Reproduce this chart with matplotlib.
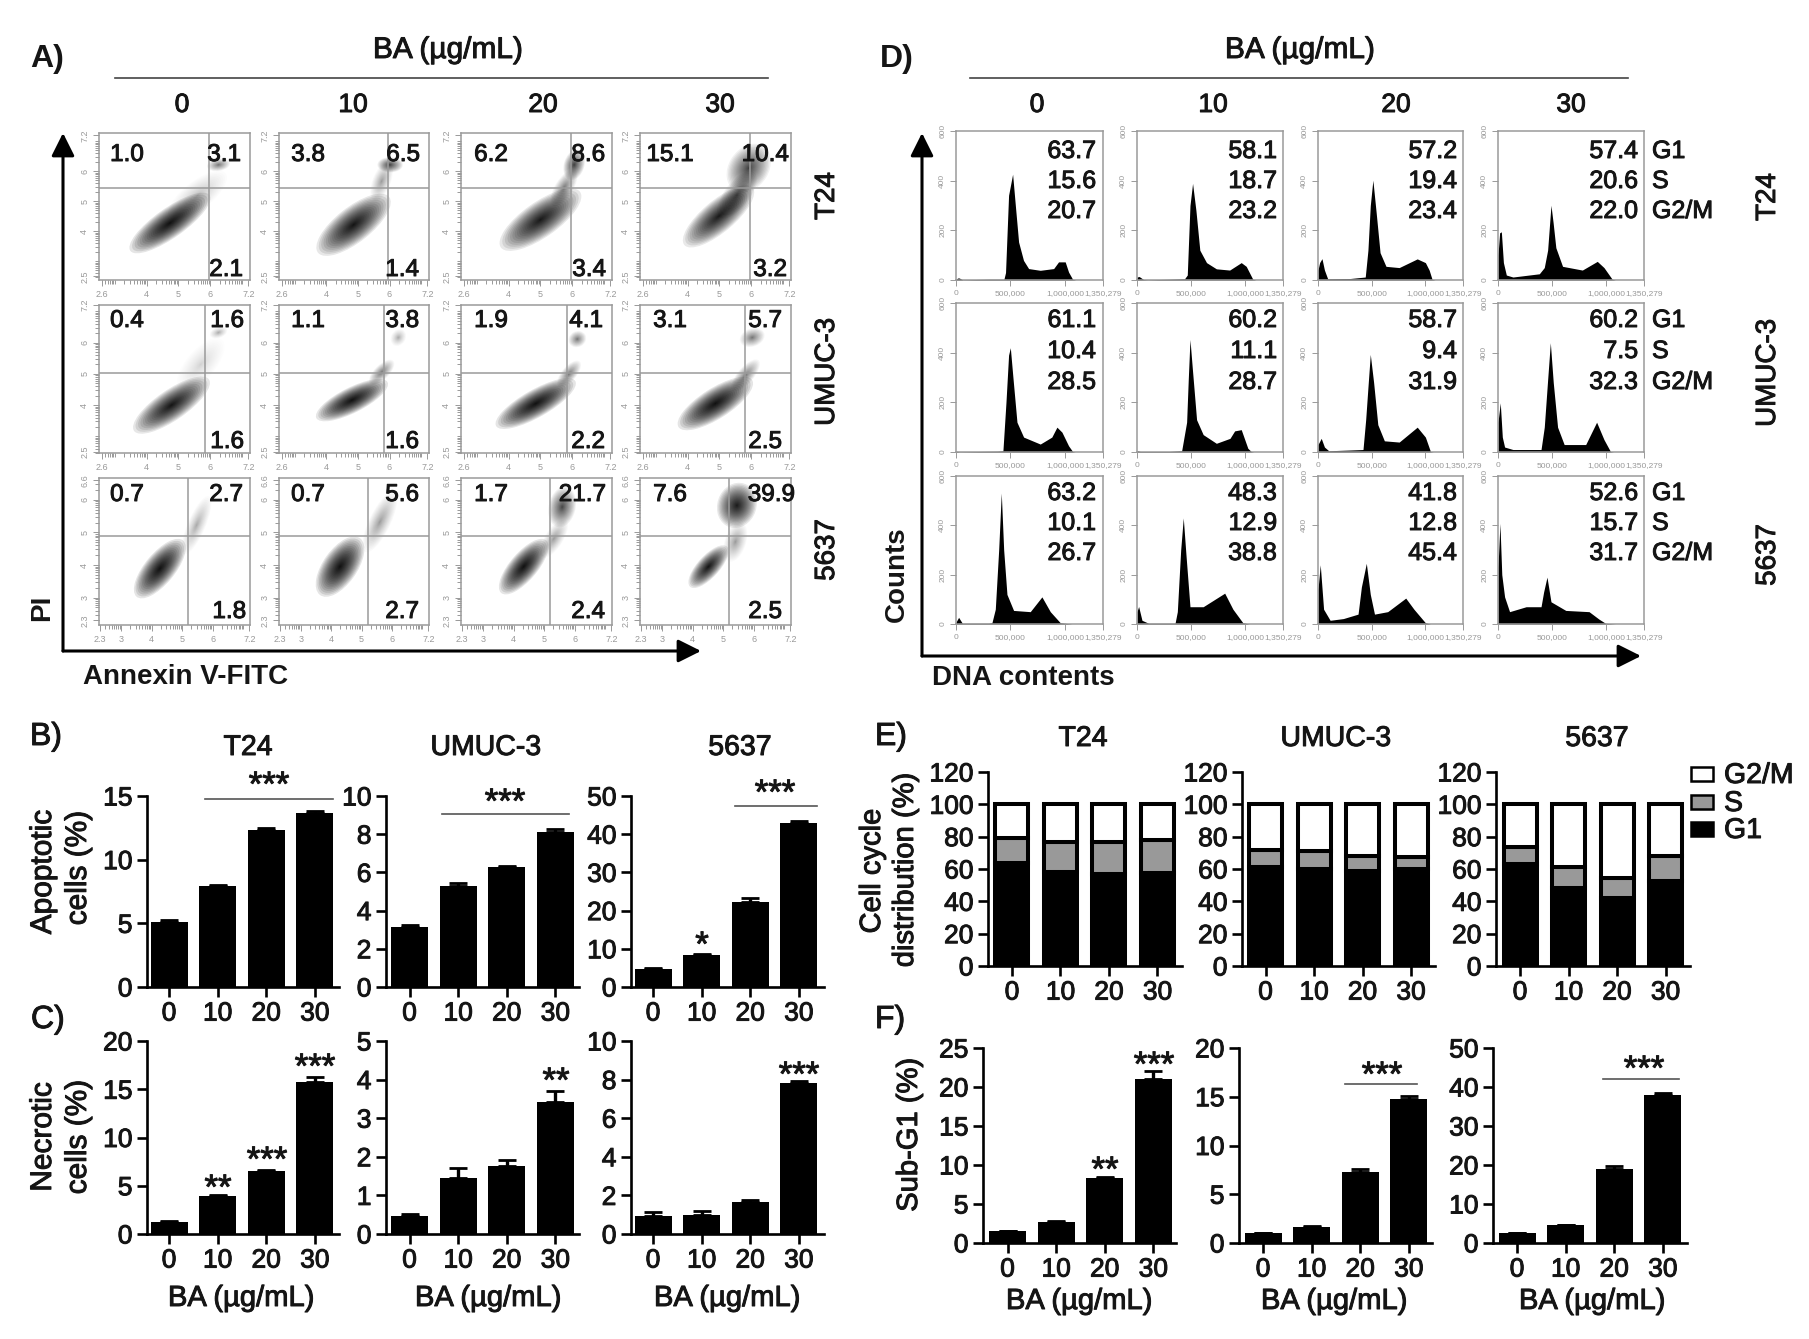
from __future__ import annotations

import matplotlib
matplotlib.use("Agg")
import matplotlib.patheffects as pe
import matplotlib.pyplot as plt
import numpy as np
from matplotlib.patches import Ellipse, Rectangle

plt.rcParams["font.family"] = ["Liberation Sans", "DejaVu Sans"]

W, H = 1809, 1339
DOSES = ["0", "10", "20", "30"]
CELLS = ["T24", "UMUC-3", "5637"]
PHASES = ["G1", "S", "G2/M"]

# panel A quadrant percentages, row by row
apo_ul = [["1.0", "3.8", "6.2", "15.1"], ["0.4", "1.1", "1.9", "3.1"], ["0.7", "0.7", "1.7", "7.6"]]
apo_ur = [["3.1", "6.5", "8.6", "10.4"], ["1.6", "3.8", "4.1", "5.7"], ["2.7", "5.6", "21.7", "39.9"]]
apo_lr = [["2.1", "1.4", "3.4", "3.2"], ["1.6", "1.6", "2.2", "2.5"], ["1.8", "2.7", "2.4", "2.5"]]

# panel A gates, log10 units
gate_x = [[5.97, 5.94, 5.97, 5.97], [5.82, 5.81, 5.82, 5.81], [5.2, 5.2, 5.2, 5.2]]
gate_y = [5.45, 5.02, 4.9]

# panel A cell clouds: x, y, half length, half width, angle, darkness
cloud_t24_0 = [(5.6, 5.2, 1.0, 0.4, 40, 0.12), (4.73, 4.28, 1.35, 0.42, 37, 1.0), (6.26, 6.22, 0.32, 0.18, 10, 0.3)]
cloud_t24_10 = [(5.75, 5.67, 0.6, 0.25, 70, 0.2), (4.86, 4.22, 1.27, 0.5, 40, 0.95), (6.02, 6.22, 0.35, 0.22, 0, 0.5)]
cloud_t24_20 = [(5.74, 5.45, 0.6, 0.25, 60, 0.3), (5.0, 4.39, 1.35, 0.5, 37, 0.9), (6.06, 6.22, 0.45, 0.28, 75, 0.55)]
cloud_t24_30 = [(5.55, 5.22, 0.8, 0.35, 55, 0.4), (4.97, 4.5, 1.25, 0.45, 42, 0.85), (5.92, 6.11, 0.75, 0.55, 60, 0.55)]
cloud_umuc_0 = [(5.7, 5.3, 0.9, 0.4, 50, 0.06), (4.78, 4.0, 1.25, 0.42, 35, 0.95), (6.26, 6.32, 0.25, 0.15, 20, 0.15)]
cloud_umuc_10 = [(5.75, 5.05, 0.45, 0.2, 45, 0.3), (4.81, 4.16, 1.1, 0.35, 27, 1.0), (6.28, 6.16, 0.25, 0.2, 60, 0.15)]
cloud_umuc_20 = [(5.9, 5.0, 0.45, 0.2, 50, 0.3), (4.85, 4.05, 1.25, 0.38, 30, 1.0), (6.16, 6.11, 0.25, 0.22, 30, 0.3)]
cloud_umuc_30 = [(5.82, 4.95, 0.55, 0.22, 50, 0.3), (4.87, 4.05, 1.2, 0.42, 33, 1.0), (6.03, 6.16, 0.35, 0.25, 20, 0.3)]
cloud_5637_0 = [(5.47, 5.22, 0.85, 0.25, 65, 0.15), (4.27, 3.89, 1.0, 0.42, 48, 1.0)]
cloud_5637_10 = [(5.6, 5.32, 0.9, 0.3, 62, 0.2), (4.29, 3.95, 0.95, 0.48, 52, 1.0)]
cloud_5637_20 = [(5.32, 4.81, 0.6, 0.25, 55, 0.2), (4.33, 3.95, 0.95, 0.38, 47, 1.0), (5.59, 5.78, 0.55, 0.38, 75, 0.5)]
cloud_5637_30 = [(5.4, 4.71, 0.55, 0.3, 70, 0.2), (4.52, 3.95, 0.75, 0.3, 45, 0.95), (5.45, 5.83, 0.62, 0.55, 60, 0.85)]

# panel D histograms, thousands of counts on x
hx_t24_0 = [0, 15, 30, 60, 300, 440, 455, 483, 520, 545, 575, 620, 667, 774, 897, 942, 1003, 1034, 1071, 1100]
hy_t24_0 = [2, 8, 8, 1, 3, 3, 30, 341, 426, 301, 153, 79, 46, 39, 46, 73, 73, 32, 3, 0]
hx_t24_10 = [0, 20, 60, 100, 300, 440, 465, 490, 514, 545, 581, 643, 734, 857, 964, 1010, 1071, 1100]
hy_t24_10 = [12, 14, 2, 1, 3, 5, 20, 300, 389, 280, 120, 70, 45, 40, 70, 55, 3, 0]
hx_t24_20 = [0, 15, 37, 60, 90, 300, 440, 465, 487, 511, 542, 578, 633, 756, 924, 1000, 1035, 1062, 1090]
hy_t24_20 = [40, 70, 86, 40, 5, 6, 12, 120, 300, 402, 270, 110, 55, 50, 85, 70, 40, 3, 0]
hx_t24_30 = [0, 15, 31, 50, 77, 138, 382, 428, 459, 490, 510, 535, 597, 780, 918, 980, 1056, 1085]
hy_t24_30 = [100, 190, 194, 70, 20, 12, 25, 50, 120, 301, 230, 130, 55, 40, 75, 50, 3, 0]
hx_umuc_0 = [0, 30, 380, 431, 459, 483, 499, 523, 560, 621, 774, 880, 927, 973, 1034, 1071, 1095]
hy_umuc_0 = [3, 1, 3, 5, 200, 390, 420, 300, 120, 60, 32, 60, 100, 80, 25, 2, 0]
hx_umuc_10 = [0, 30, 300, 413, 459, 474, 490, 511, 551, 612, 734, 860, 903, 964, 1025, 1056, 1080]
hy_umuc_10 = [5, 2, 2, 5, 120, 290, 453, 340, 130, 70, 35, 55, 85, 90, 15, 2, 0]
hx_umuc_20 = [0, 30, 60, 100, 300, 419, 444, 465, 487, 518, 557, 618, 756, 924, 1000, 1047, 1075]
hy_umuc_20 = [30, 55, 20, 5, 8, 10, 130, 260, 393, 280, 110, 45, 40, 100, 60, 2, 0]
hx_umuc_30 = [0, 21, 40, 61, 138, 398, 428, 459, 484, 511, 551, 612, 811, 912, 980, 1040, 1070]
hy_umuc_30 = [120, 198, 60, 20, 10, 10, 100, 290, 440, 280, 100, 30, 30, 120, 50, 2, 0]
hx_5637_0 = [0, 24, 58, 300, 330, 361, 392, 416, 438, 468, 529, 682, 789, 866, 958, 1065]
hy_5637_0 = [8, 27, 3, 3, 5, 60, 300, 531, 300, 120, 55, 50, 110, 50, 5, 0]
hx_5637_10 = [0, 15, 46, 107, 352, 373, 404, 428, 453, 490, 612, 811, 887, 979, 1040]
hy_5637_10 = [50, 71, 15, 3, 3, 50, 300, 430, 280, 70, 70, 125, 60, 5, 0]
hx_5637_20 = [0, 21, 52, 113, 236, 373, 404, 450, 487, 526, 649, 817, 893, 1000, 1047]
hy_5637_20 = [140, 240, 60, 15, 22, 40, 150, 246, 120, 40, 50, 105, 60, 5, 0]
hx_5637_30 = [0, 18, 35, 61, 107, 260, 398, 422, 453, 490, 627, 842, 933, 994, 1086]
hy_5637_30 = [230, 408, 200, 110, 50, 70, 70, 130, 190, 90, 55, 50, 20, 3, 0]

# cell cycle fractions, also used for panel E
g1_t24 = [63.7, 58.1, 57.2, 57.4]
s_t24 = [15.6, 18.7, 19.4, 20.6]
g2_t24 = [20.7, 23.2, 23.4, 22.0]
g1_umuc = [61.1, 60.2, 58.7, 60.2]
s_umuc = [10.4, 11.1, 9.4, 7.5]
g2_umuc = [28.5, 28.7, 31.9, 32.3]
g1_5637 = [63.2, 48.3, 41.8, 52.6]
s_5637 = [10.1, 12.9, 12.8, 15.7]
g2_5637 = [26.7, 38.8, 45.4, 31.7]

# bar panels
apo_t24 = [5.1, 7.9, 12.3, 13.7]
apo_t24_err = [0.15, 0.1, 0.2, 0.1]
apo_umuc = [3.15, 5.3, 6.3, 8.1]
apo_umuc_err = [0.1, 0.12, 0.05, 0.15]
apo_5637 = [4.7, 8.5, 22.3, 43.0]
apo_5637_err = [0.2, 0.2, 1.0, 0.4]
nec_t24 = [1.2, 3.9, 6.5, 15.8]
nec_t24_err = [0.1, 0.15, 0.15, 0.5]
nec_umuc = [0.47, 1.45, 1.75, 3.42]
nec_umuc_err = [0.05, 0.27, 0.17, 0.28]
nec_5637 = [0.95, 1.0, 1.65, 7.8]
nec_5637_err = [0.2, 0.2, 0.1, 0.15]
sub_t24 = [1.5, 2.7, 8.3, 21.0]
sub_t24_err = [0.1, 0.15, 0.2, 1.0]
sub_umuc = [1.0, 1.6, 7.3, 14.8]
sub_umuc_err = [0.05, 0.1, 0.25, 0.25]
sub_5637 = [2.5, 4.5, 19.0, 38.0]
sub_5637_err = [0.1, 0.2, 0.7, 0.5]

INK = "#151515"
THICKEN = [pe.withStroke(linewidth=0.7, foreground=INK)]

fig = plt.figure(figsize=(W / 100, H / 100), dpi=100)


def px_axes(left, top, right, bottom):
    return fig.add_axes([left / W, 1 - bottom / H, (right - left) / W, (bottom - top) / H])


ov = fig.add_axes([0, 0, 1, 1], zorder=20)
ov.set_xlim(0, W)
ov.set_ylim(H, 0)
ov.axis("off")
ov.patch.set_alpha(0)


def label(x, y, text, size=20.5, weight="medium", ha="center", va="center", rot=0):
    # "medium" has no face of its own here, so thicken the regular one a little
    medium = weight == "medium"
    t = ov.text(x, y, text, fontsize=size, fontweight="normal" if medium else weight,
                ha=ha, va=va, rotation=rot, color=INK)
    if medium:
        t.set_path_effects(THICKEN)
    return t


def stars(x, y, text):
    # asterisks sit high in the line box, so shift down
    label(x, y + 7, text, size=25)


def draw_cloud(ax, cloud):
    for cx, cy, a, b, angle, dark in cloud:
        for frac in np.linspace(1, 0.04, 24) ** 1.6:
            ax.add_patch(Ellipse((cx, cy), 2.3 * a * frac, 2.3 * b * frac, angle=angle,
                                 facecolor="k", edgecolor="none", alpha=0.1 * dark))


def log_ticks(lo, hi):
    ticks = [d + np.log10(k) for d in range(2, 8) for k in range(1, 10)]
    return [t for t in ticks if lo <= t <= hi]


def frame_small(ax):
    for spine in ax.spines.values():
        spine.set_color("#9a9a9a")
        spine.set_linewidth(1.1)


# ---- panel A
apo_cols = [(99, 250), (279, 429), (461, 612), (640, 791)]
apo_rows = [(133, 280), (305, 453), (478, 625)]
apo_xlim = [(2.5, 7.25), (2.5, 7.25), (2.28, 7.22)]
apo_ylim = [(2.38, 7.28), (2.47, 7.16), (2.16, 6.67)]
apo_xticks = [[2.6, 4, 5, 6, 7.2], [2.6, 4, 5, 6, 7.2], [2.3, 3, 4, 5, 6, 7.2]]
apo_yticks = [[2.5, 4, 5, 6, 7.2], [2.5, 4, 5, 6, 7.2], [2.3, 3, 4, 5, 6, 6.6]]
apo_clouds = [
    [cloud_t24_0, cloud_t24_10, cloud_t24_20, cloud_t24_30],
    [cloud_umuc_0, cloud_umuc_10, cloud_umuc_20, cloud_umuc_30],
    [cloud_5637_0, cloud_5637_10, cloud_5637_20, cloud_5637_30],
]
ul_x = [127, 308, 491, 670]
ur_right = [[241, 420, 605, 789], [244, 419, 603, 782], [243, 419, 606, 795]]
lr_right = [[243, 419, 606, 787], [244, 419, 605, 782], [246, 419, 605, 782]]
top_y = [155, 321, 495]
low_y = [270, 442, 612]

for r, (top, bottom) in enumerate(apo_rows):
    for c, (left, right) in enumerate(apo_cols):
        ax = px_axes(left, top, right, bottom)
        ax.set_xlim(*apo_xlim[r])
        ax.set_ylim(*apo_ylim[r])
        draw_cloud(ax, apo_clouds[r][c])
        ax.axvline(gate_x[r][c], color="#9a9a9a", lw=1.1)
        ax.axhline(gate_y[r], color="#9a9a9a", lw=1.1)
        frame_small(ax)
        ax.set_xticks(apo_xticks[r], [str(t) for t in apo_xticks[r]])
        ax.set_yticks(apo_yticks[r], [str(t) for t in apo_yticks[r]], rotation=90, va="center")
        ax.set_xticks(log_ticks(*apo_xlim[r]), minor=True)
        ax.set_yticks(log_ticks(*apo_ylim[r]), minor=True)
        ax.tick_params(which="major", length=4, width=0.7, color="#999999", labelcolor="#999999",
                       labelsize=6.5, pad=3)
        ax.tick_params(which="minor", length=3, width=0.7, color="#999999")
        label(ul_x[c], top_y[r], apo_ul[r][c], size=17.5)
        label(ur_right[r][c], top_y[r], apo_ur[r][c], size=17.5, ha="right")
        label(lr_right[r][c], low_y[r], apo_lr[r][c], size=17.5, ha="right")

# ---- panel D
dna_cols = [(956, 1103), (1137, 1283), (1318, 1463), (1498, 1644)]
dna_rows = [(131, 280), (303, 452), (476, 624)]
dna_hist = [
    [(hx_t24_0, hy_t24_0), (hx_t24_10, hy_t24_10), (hx_t24_20, hy_t24_20), (hx_t24_30, hy_t24_30)],
    [(hx_umuc_0, hy_umuc_0), (hx_umuc_10, hy_umuc_10), (hx_umuc_20, hy_umuc_20), (hx_umuc_30, hy_umuc_30)],
    [(hx_5637_0, hy_5637_0), (hx_5637_10, hy_5637_10), (hx_5637_20, hy_5637_20), (hx_5637_30, hy_5637_30)],
]
dna_g1 = [g1_t24, g1_umuc, g1_5637]
dna_s = [s_t24, s_umuc, s_5637]
dna_g2 = [g2_t24, g2_umuc, g2_5637]
num_right = [1096, 1277, 1457, 1638]
num_y = [(151, 181, 211), (320, 351, 382), (493, 523, 553)]

for r, (top, bottom) in enumerate(dna_rows):
    for c, (left, right) in enumerate(dna_cols):
        ax = px_axes(left, top, right, bottom)
        ax.set_xlim(0, 1350.279)
        ax.set_ylim(0, 600)
        hx, hy = dna_hist[r][c]
        ax.fill_between(hx, hy, 0, color="k", lw=0)
        frame_small(ax)
        ax.set_xticks([0, 500, 1000, 1350.279], ["0", "500,000", "1,000,000", "1,350,279"])
        ax.set_yticks([0, 200, 400, 600], ["0", "200", "400", "600"], rotation=90, va="center")
        ax.tick_params(length=4, width=0.7, color="#999999", labelcolor="#999999", labelsize=6, pad=3)
        for y, vals in zip(num_y[r], (dna_g1[r], dna_s[r], dna_g2[r])):
            label(num_right[c], y, f"{vals[c]:.1f}", size=18, ha="right")
    for y, phase in zip(num_y[r], PHASES):
        label(1652, y, phase, size=18, ha="left")


# ---- bar panels
def style_axes(ax, yticks):
    ax.spines["top"].set_visible(False)
    ax.spines["right"].set_visible(False)
    ax.spines["left"].set_linewidth(1.9)
    ax.spines["bottom"].set_linewidth(1.9)
    ax.set_xticks(range(4), DOSES)
    ax.set_yticks(yticks)
    ax.tick_params(length=7.5, width=1.9, labelsize=19, pad=3, labelcolor=INK)
    for tick_label in ax.get_xticklabels() + ax.get_yticklabels():
        tick_label.set_path_effects(THICKEN)


def bar_panel(left, right, top, bottom, first, vals, errs, ymax, yticks):
    pitch = 48.6
    ax = px_axes(left, top, right, bottom)
    ax.set_xlim((left - first) / pitch, (right - first) / pitch)
    ax.set_ylim(0, ymax)
    x = np.arange(4)
    ax.bar(x, vals, width=37 / pitch, color="k", lw=0)
    ax.errorbar(x, vals, yerr=[[0] * 4, errs], fmt="none", ecolor="k", elinewidth=2.4,
                capsize=6.5, capthick=2)
    style_axes(ax, yticks)


def stack_panel(left, right, first, g1, s, g2):
    pitch = 48.5
    ax = px_axes(left, 772, right, 966)
    ax.set_xlim((left - first) / pitch, (right - first) / pitch)
    ax.set_ylim(0, 120)
    x = np.arange(4)
    g1 = np.array(g1)
    s = np.array(s)
    w = 33 / pitch
    ax.bar(x, g1, width=w, color="k", edgecolor="k", lw=2.9)
    ax.bar(x, s, bottom=g1, width=w, color="#999999", edgecolor="k", lw=2.9)
    ax.bar(x, g2, bottom=g1 + s, width=w, color="w", edgecolor="k", lw=2.9)
    style_axes(ax, list(range(0, 121, 20)))


bar_panel(147, 339, 796, 987, 169, apo_t24, apo_t24_err, 15, [0, 5, 10, 15])
bar_panel(386, 579, 796, 987, 409.5, apo_umuc, apo_umuc_err, 10, [0, 2, 4, 6, 8, 10])
bar_panel(631, 824, 796, 987, 653, apo_5637, apo_5637_err, 50, [0, 10, 20, 30, 40, 50])
bar_panel(147, 339, 1041, 1234, 169, nec_t24, nec_t24_err, 20, [0, 5, 10, 15, 20])
bar_panel(386, 579, 1041, 1234, 409.5, nec_umuc, nec_umuc_err, 5, [0, 1, 2, 3, 4, 5])
bar_panel(631, 824, 1041, 1234, 653, nec_5637, nec_5637_err, 10, [0, 2, 4, 6, 8, 10])
stack_panel(988, 1182, 1012, g1_t24, s_t24, g2_t24)
stack_panel(1242, 1435, 1265.5, g1_umuc, s_umuc, g2_umuc)
stack_panel(1496, 1690, 1520, g1_5637, s_5637, g2_5637)
bar_panel(983, 1176, 1048, 1243, 1007.5, sub_t24, sub_t24_err, 25, [0, 5, 10, 15, 20, 25])
bar_panel(1239, 1432, 1048, 1243, 1263, sub_umuc, sub_umuc_err, 20, [0, 5, 10, 15, 20])
bar_panel(1493, 1687, 1048, 1243, 1517, sub_5637, sub_5637_err, 50, [0, 10, 20, 30, 40, 50])

# ---- overlay: arrows, rules, titles
for (x0, y0), (x1, y1) in [((63, 651), (63, 133)), ((63, 651), (701, 651)),
                           ((922, 656), (922, 133)), ((922, 656), (1641, 656))]:
    ov.annotate("", xy=(x1, y1), xytext=(x0, y0),
                arrowprops=dict(arrowstyle="-|>,head_length=0.4,head_width=0.2", mutation_scale=35,
                                lw=2.2, color="k", shrinkA=0, shrinkB=0))

for x0, x1 in [(115, 768), (970, 1628)]:
    ov.plot([x0, x1], [78, 78], color="#444444", lw=1.2)
for x0, x1, y in [(205, 333, 799), (442, 569, 814), (735, 817, 806), (1345, 1417, 1084), (1603, 1679, 1079)]:
    ov.plot([x0, x1], [y, y], color="#555555", lw=1.2)

for x, y, s in [(30, 67, "A)"), (880, 67, "D)"), (30, 745, "B)"), (31, 1028, "C)"), (875, 745, "E)"), (875, 1028, "F)")]:
    label(x, y, s, size=23, weight="bold" if s in ("A)", "D)") else "medium", ha="left", va="baseline")

label(448, 50, "BA (µg/mL)", size=21.5)
label(1300, 50, "BA (µg/mL)", size=21.5)
for x, s in zip([182, 353, 543, 720], DOSES):
    label(x, 105, s, size=19)
for x, s in zip([1037, 1213, 1396, 1571], DOSES):
    label(x, 105, s, size=19)

for y, s in zip([196, 372, 550], CELLS):
    label(827, y, s, size=20, rot=90)
for y, s in zip([197, 373, 555], CELLS):
    label(1768, y, s, size=20, rot=90)

label(42, 608, "PI", size=20, weight="bold", rot=90)
label(83, 677, "Annexin V-FITC", size=20, weight="bold", ha="left")
label(897, 574, "Counts", size=20, weight="bold", rot=90)
label(932, 678, "DNA contents", size=20, weight="bold", ha="left")

for x, s in zip([248, 486, 740], CELLS):
    label(x, 748, s)
for x, s in zip([1083, 1336, 1597], CELLS):
    label(x, 739, s)
for x in [241, 488, 727]:
    label(x, 1298, "BA (µg/mL)", size=21)
for x in [1079, 1334, 1592]:
    label(x, 1301, "BA (µg/mL)", size=21)

label(43, 872, "Apoptotic", size=21.5, rot=90)
label(78, 868, "cells (%)", size=21.5, rot=90)
label(43, 1137, "Necrotic", size=21.5, rot=90)
label(78, 1137, "cells (%)", size=21.5, rot=90)
label(872, 871, "Cell cycle", size=21, rot=90)
label(905, 870, "distribution (%)", size=21, rot=90)
label(909, 1135, "Sub-G1 (%)", size=21, rot=90)

for x, y, s in [(269, 779, "***"), (505, 796, "***"), (775, 787, "***"), (702, 939, "*"),
                (218, 1182, "**"), (267, 1154, "***"), (315, 1061, "***"), (556, 1075, "**"), (799, 1069, "***"),
                (1105, 1164, "**"), (1154, 1059, "***"), (1382, 1069, "***"), (1644, 1063, "***")]:
    stars(x, y, s)

# legend of panel E
for y, s, col in [(767, "G2/M", "w"), (795, "S", "#999999"), (822, "G1", "k")]:
    ov.add_patch(Rectangle((1691, y), 22, 14, facecolor=col, edgecolor="k", lw=1.8))
    label(1724, y + 9, s, ha="left")

fig.savefig("out.png", dpi=100)
